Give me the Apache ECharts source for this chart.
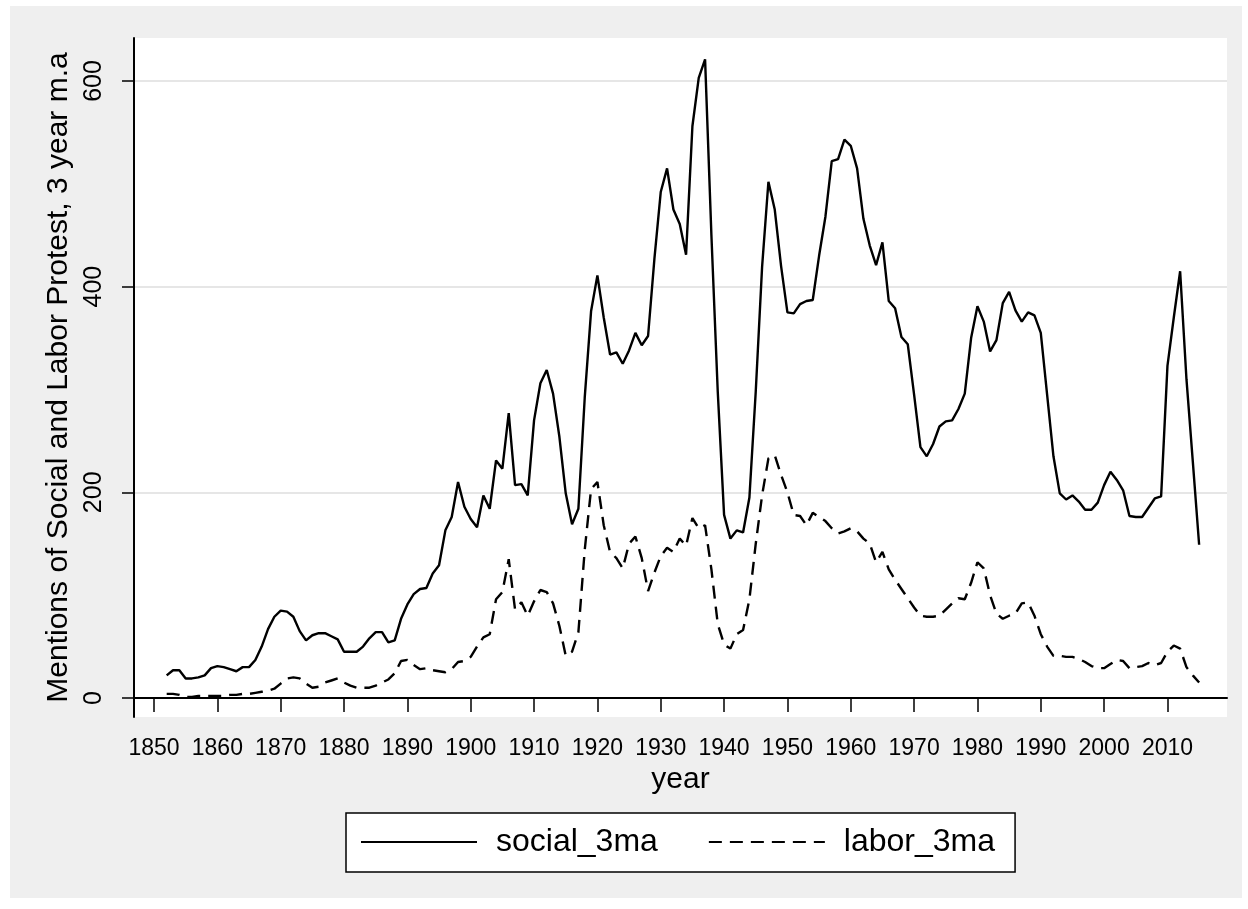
<!DOCTYPE html>
<html>
<head>
<meta charset="utf-8">
<title>social_3ma / labor_3ma</title>
<script src="https://cdn.jsdelivr.net/npm/echarts@6/dist/echarts.min.js"></script>
<style>
  html, body { margin: 0; padding: 0; background: #fff; }
  #chart { width: 1248px; height: 909px; }
</style>
</head>
<body>
<div id="chart"></div>
<script>
/* years on the x axis */
const years = [
  1852, 1853, 1854, 1855, 1856, 1857, 1858, 1859, 1860, 1861,
  1862, 1863, 1864, 1865, 1866, 1867, 1868, 1869, 1870, 1871,
  1872, 1873, 1874, 1875, 1876, 1877, 1878, 1879, 1880, 1881,
  1882, 1883, 1884, 1885, 1886, 1887, 1888, 1889, 1890, 1891,
  1892, 1893, 1894, 1895, 1896, 1897, 1898, 1899, 1900, 1901,
  1902, 1903, 1904, 1905, 1906, 1907, 1908, 1909, 1910, 1911,
  1912, 1913, 1914, 1915, 1916, 1917, 1918, 1919, 1920, 1921,
  1922, 1923, 1924, 1925, 1926, 1927, 1928, 1929, 1930, 1931,
  1932, 1933, 1934, 1935, 1936, 1937, 1938, 1939, 1940, 1941,
  1942, 1943, 1944, 1945, 1946, 1947, 1948, 1949, 1950, 1951,
  1952, 1953, 1954, 1955, 1956, 1957, 1958, 1959, 1960, 1961,
  1962, 1963, 1964, 1965, 1966, 1967, 1968, 1969, 1970, 1971,
  1972, 1973, 1974, 1975, 1976, 1977, 1978, 1979, 1980, 1981,
  1982, 1983, 1984, 1985, 1986, 1987, 1988, 1989, 1990, 1991,
  1992, 1993, 1994, 1995, 1996, 1997, 1998, 1999, 2000, 2001,
  2002, 2003, 2004, 2005, 2006, 2007, 2008, 2009, 2010, 2011,
  2012, 2013, 2014, 2015
]

/* social protest mentions, 3 year moving average */
const social3ma = [
  22, 27, 27, 19, 19, 20, 22, 29, 31, 30,
  28, 26, 30, 30, 37, 50, 67, 79, 85, 84,
  79, 65, 56, 61, 63, 63, 60, 57, 45, 45,
  45, 50, 58, 64, 64, 54, 56, 77, 91, 101,
  106, 107, 121, 129, 163, 176, 210, 186, 174, 166,
  197, 184, 231, 223, 277, 207, 208, 197, 270, 306,
  319, 296, 254, 199, 169, 184, 292, 376, 411, 370,
  334, 336, 325, 338, 355, 343, 352, 427, 492, 515,
  475, 461, 431, 556, 603, 621, 450, 298, 178, 155,
  163, 161, 195, 298, 419, 502, 475, 420, 375, 374,
  383, 386, 387, 430, 468, 522, 524, 543, 537, 515,
  466, 440, 421, 443, 386, 379, 351, 344, 295, 244,
  235, 247, 264, 269, 270, 281, 296, 350, 381, 366,
  337, 348, 384, 395, 377, 366, 375, 372, 355, 295,
  235, 199, 193, 197, 191, 183, 183, 190, 207, 220,
  212, 202, 177, 176, 176, 185, 194, 196, 323, 370,
  415, 310, 230, 149
]

/* labor protest mentions, 3 year moving average */
const labor3ma = [
  4, 4, 3, 1, 1, 2, 2, 2, 2, 2,
  3, 3, 4, 4, 5, 6, 7, 9, 14, 19,
  20, 19, 14, 10, 11, 15, 17, 19, 15, 12,
  10, 10, 10, 12, 15, 18, 24, 36, 37, 32,
  28, 29, 27, 26, 25, 28, 35, 36, 40, 50,
  59, 62, 96, 103, 135, 86, 93, 80, 94, 105,
  103, 92, 70, 41, 45, 64, 144, 203, 210, 168,
  142, 136, 126, 150, 157, 136, 104, 122, 138, 146,
  142, 155, 148, 175, 165, 168, 125, 72, 52, 48,
  62, 66, 96, 150, 197, 233, 236, 217, 200, 178,
  177, 168, 180, 176, 172, 165, 160, 162, 165, 162,
  155, 150, 132, 142, 125, 115, 106, 97, 88, 80,
  79, 79, 80, 86, 92, 97, 96, 112, 132, 126,
  100, 82, 77, 80, 82, 92, 93, 80, 62, 50,
  41, 41, 40, 40, 38, 35, 31, 29, 29, 33,
  37, 36, 29, 30, 31, 34, 32, 34, 45, 51,
  48, 30, 22, 15
]

/* tick labels */
const xTicks = [1850, 1860, 1870, 1880, 1890, 1900, 1910, 1920,
  1930, 1940, 1950, 1960, 1970, 1980, 1990, 2000, 2010]
const yTicks = [0, 200, 400, 600]

const FONT = '"Liberation Sans", Arial, sans-serif'

const chart = echarts.init(document.getElementById('chart'))

chart.setOption({
  backgroundColor: '#ffffff',
  animation: false,
  /* gray outer panel, like the Stata graph region */
  graphic: [
    {
      type: 'rect',
      z: -100,
      silent: true,
      shape: { x: 10, y: 6, width: 1232, height: 892 },
      style: { fill: '#efefef' }
    }
  ],
  grid: {
    left: 134,
    right: 21,
    top: 38,
    bottom: 192,
    show: true,
    backgroundColor: '#ffffff',
    borderWidth: 0
  },
  legend: {
    left: 346,
    top: 813,
    orient: 'horizontal',
    backgroundColor: '#ffffff',
    borderColor: '#000000',
    borderWidth: 1.5,
    borderRadius: 0,
    padding: [13, 20, 14, 14],
    itemWidth: 116,
    itemHeight: 14,
    itemGap: 50,
    itemStyle: { opacity: 0, borderWidth: 0 }, // hide the dot, keep the line
    textStyle: {
      fontFamily: FONT,
      fontSize: 32,
      color: '#000',
      padding: [0, 0, 0, 14]
    },
    data: ['social_3ma', 'labor_3ma']
  },
  xAxis: {
    type: 'value',
    min: 1846.84,
    max: 2019.4,
    name: 'year',
    nameLocation: 'middle',
    nameGap: 47,
    nameTextStyle: { fontFamily: FONT, fontSize: 30, color: '#000' },
    axisLine: { show: true, lineStyle: { color: '#000', width: 2 } },
    axisTick: {
      show: true,
      length: 14,
      customValues: xTicks,
      lineStyle: { color: '#000', width: 1.5 }
    },
    axisLabel: {
      customValues: xTicks,
      margin: 20,
      fontFamily: FONT,
      fontSize: 23,
      color: '#000',
      formatter: v => String(v)
    },
    splitLine: { show: false }
  },
  yAxis: {
    type: 'value',
    min: -18.5,
    max: 641.8,
    name: 'Mentions of Social and Labor Protest, 3 year m.a',
    nameLocation: 'middle',
    nameGap: 49,
    nameTextStyle: { fontFamily: FONT, fontSize: 30, color: '#000' },
    axisLine: { show: true, lineStyle: { color: '#000', width: 2 } },
    axisTick: {
      show: true,
      length: 12,
      customValues: yTicks,
      lineStyle: { color: '#000', width: 1.5 }
    },
    axisLabel: {
      customValues: yTicks,
      rotate: 90,
      margin: 27,
      fontFamily: FONT,
      fontSize: 25,
      color: '#000',
      formatter: v => String(v)
    },
    splitLine: {
      show: true,
      lineStyle: { color: '#e6e6e6', width: 2 }
    }
  },
  series: [
    {
      name: 'social_3ma',
      type: 'line',
      symbol: 'none',
      data: years.map((y, i) => [y, social3ma[i]]),
      lineStyle: { color: '#000', width: 2.4, type: 'solid' },
      itemStyle: { color: '#000' }
    },
    {
      name: 'labor_3ma',
      type: 'line',
      symbol: 'none',
      data: years.map((y, i) => [y, labor3ma[i]]),
      lineStyle: { color: '#000', width: 2.4, type: [13, 8] },
      itemStyle: { color: '#000' }
    }
  ]
})
</script>
</body>
</html>
